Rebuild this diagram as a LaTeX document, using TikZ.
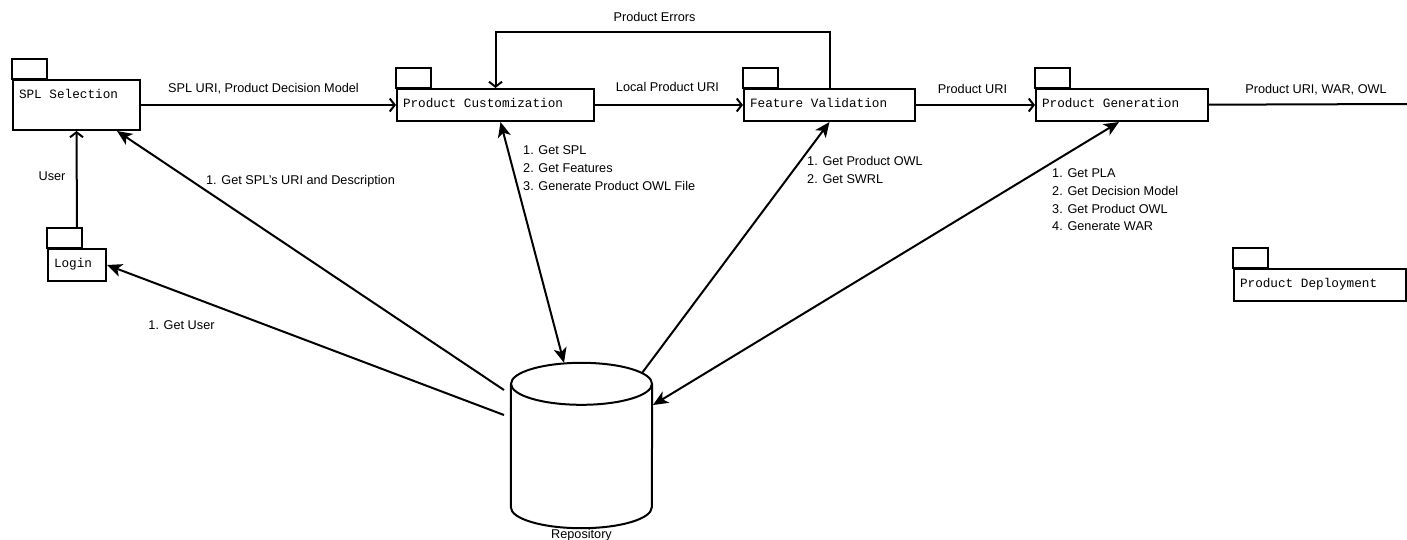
\documentclass[tikz,border=0pt]{standalone}
\usepackage{fontspec}
\setmainfont{Liberation Sans}
\newfontfamily\pkgfont{Liberation Mono}[WordSpace={1,0,0}]
\usetikzlibrary{arrows.meta}
\definecolor{ink}{HTML}{000000}

\begin{document}
\begin{tikzpicture}[x=1pt, y=-1pt,
  every node/.style={font=\fontsize{12.7}{17.8}\selectfont, text=ink},
  pkg/.style={draw=ink, line width=2pt, anchor=north west, align=flush left, inner xsep=6pt, inner ysep=6pt,
    text height=12pt, text depth=8pt, font=\fontsize{12.7}{15}\pkgfont},
  store/.style={inner sep=0pt, minimum width=141pt, minimum height=165pt},
  lbl/.style={inner sep=0pt, anchor=base},
  steps/.style={inner sep=0pt, anchor=north west, align=left},
  flow/.style={draw=ink, line width=2pt, -{Straight Barb[length=5pt,width=13pt]}},
  query/.style={draw=ink, line width=2pt, -{Stealth[length=15pt,width=13pt,inset=4pt]}},
  twoway/.style={query, {Stealth[length=15pt,width=13pt,inset=4pt]}-{Stealth[length=15pt,width=13pt,inset=4pt]}},
]
\useasboundingbox (0,0) rectangle (1407,539);

% packages
\node[pkg, text width=115pt, text depth=26pt] (spl) at (12,79) {SPL Selection};
\node[pkg, text width=185pt] (cust) at (396,88) {Product Customization};
\node[pkg, text width=159pt] (valid) at (743,88) {Feature Validation};
\node[pkg, text width=160pt] (gen) at (1035,88) {Product Generation};
\node[pkg, text width=46pt] (login) at (47,248) {Login};
\node[pkg, text width=160pt] (deploy) at (1233,268) {Product Deployment};
\foreach \p in {spl,cust,valid,gen,login,deploy}
  \draw[draw=ink, line width=2pt] (\p.north west) rectangle ++(35,-20);

% repository
\node[store] (repo) at (581.5,445.5) {};
\draw[draw=ink, line width=2pt, fill=white] ([yshift=-21pt]repo.north west) -- ([yshift=21pt]repo.south west)
  arc[start angle=180, end angle=360, x radius=70.5pt, y radius=21pt] -- ([yshift=-21pt]repo.north east);
\draw[draw=ink, line width=2pt, fill=white] ([yshift=-21pt]repo.north) ellipse[x radius=70.5pt, y radius=21pt];
\node[lbl] (lrepo) at (581.5,538) {Repository};
\coordinate (out) at (1407,104);

% main flow
\draw[flow] (spl) -- (cust);
\draw[flow] (cust) -- (valid);
\draw[flow] (valid) -- (gen);
\draw[draw=ink, line width=2pt] (gen) -- (out);
\draw[flow] (valid.north) -- ++(0,-56) -| (cust.north);
\draw[flow] ([yshift=20pt]login.north) -- (spl.south);
\node[lbl] (lsel) at (263.5,92.5) {SPL URI, Product Decision Model};
\node[lbl] (llocal) at (667.5,91.5) {Local Product URI};
\node[lbl] (lprod) at (972.5,93.5) {Product URI};
\node[lbl] (lwar) at (1316,93) {Product URI, WAR, OWL};
\node[lbl] (lerr) at (654.5,21.5) {Product Errors};
\node[lbl] (luser) at (52,180.5) {User};

% repository access
\draw[query] ([xshift=-77.5pt,yshift=55.5pt]repo.center) -- ([xshift=-24pt]spl.south east);
\draw[query] ([xshift=-77.5pt,yshift=30.5pt]repo.center) -- (login.east);
\draw[twoway] ([xshift=5pt]cust.south) -- ([xshift=-17.5pt]repo.north);
\draw[query] ([xshift=60.5pt,yshift=72.5pt]repo.center) -- (valid.south);
\draw[twoway] ([xshift=-3pt]gen.south) -- ([xshift=71.5pt,yshift=40.5pt]repo.center);
\node[lbl] (lspl) at (300.5,184.5) {1. Get SPL’s URI and Description};
\node[lbl] (luser2) at (181.5,329.5) {1. Get User};
\node[steps] (lcust) at (523,145.5) {1. Get SPL\\2. Get Features\\3. Generate Product OWL File};
\node[steps] (lvalid) at (807,156.5) {1. Get Product OWL\\2. Get SWRL};
\node[steps] (lgen) at (1052,168.5) {1. Get PLA\\2. Get Decision Model\\3. Get Product OWL\\4. Generate WAR};
\end{tikzpicture}
\end{document}
